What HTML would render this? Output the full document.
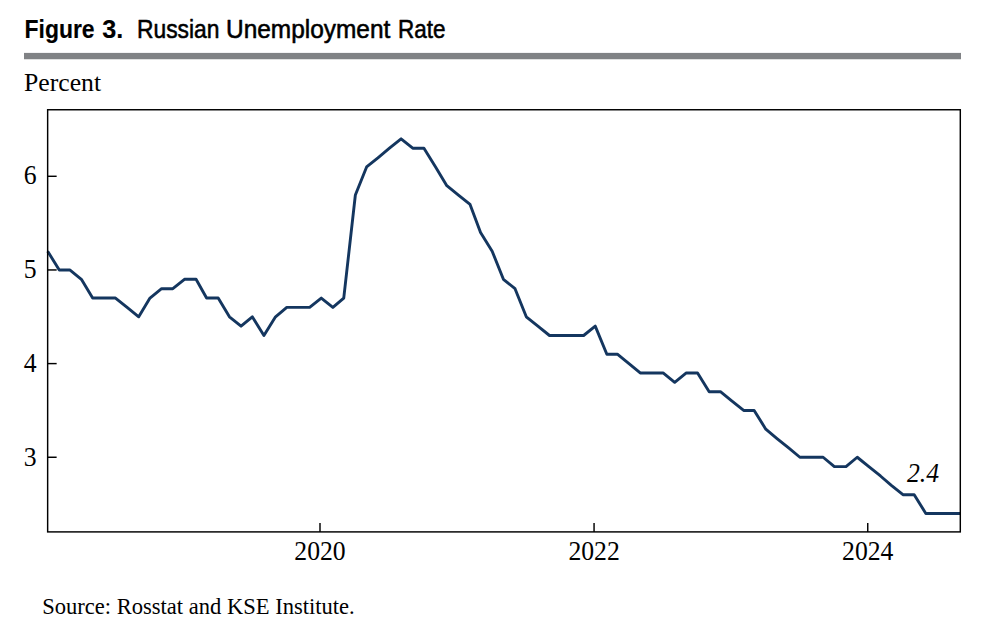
<!DOCTYPE html>
<html><head><meta charset="utf-8"><title>Figure 3. Russian Unemployment Rate</title>
<style>
html,body{margin:0;padding:0;background:#fff;}
body{width:990px;height:624px;overflow:hidden;position:relative;}
svg{position:absolute;left:0;top:0;display:block;}
text{fill:#000;}
.s{font-family:"Liberation Serif","Times New Roman",serif;font-size:25.7px;}
.t{font-family:"Liberation Sans","DejaVu Sans Condensed",sans-serif;font-size:25px;}
.ax line,.ax rect{stroke:#000;stroke-width:1.45;fill:none;}
</style></head><body>
<svg width="990" height="624" viewBox="0 0 990 624">
<rect x="0" y="0" width="990" height="624" fill="#fff"/>
<text class="t" y="37.8" stroke="#000" stroke-width="0.55" stroke-linejoin="round"><tspan x="24.6" font-weight="bold" stroke-width="0.15" textLength="70.0" lengthAdjust="spacingAndGlyphs">Figure</tspan> <tspan x="102.2" font-weight="bold" stroke-width="0.15" textLength="21" lengthAdjust="spacingAndGlyphs">3.</tspan> <tspan x="137" textLength="82.5" lengthAdjust="spacingAndGlyphs">Russian</tspan> <tspan x="226.0" textLength="164.3" lengthAdjust="spacingAndGlyphs">Unemployment</tspan> <tspan x="398" textLength="47.5" lengthAdjust="spacingAndGlyphs">Rate</tspan></text>
<rect x="24" y="52.9" width="937" height="6.35" fill="#808285"/>
<text class="s" x="24" y="91.1">Percent</text>
<polyline points="47.65,251.22 59.27,269.95 69.76,269.95 81.38,279.31 92.63,298.04 104.25,298.04 115.49,298.04 127.11,307.41 138.73,316.77 149.97,298.04 161.59,288.68 172.83,288.68 184.45,279.31 196.07,279.31 206.57,298.04 218.19,298.04 229.43,316.77 241.05,326.14 252.29,316.77 263.91,335.50 275.53,316.77 286.78,307.41 298.39,307.41 309.64,307.41 321.26,298.04 332.88,307.41 343.75,298.04 355.36,195.03 366.61,166.94 378.23,157.57 389.47,148.20 401.09,138.84 412.71,148.20 423.95,148.20 435.57,166.94 446.82,185.66 458.44,195.03 470.06,204.39 480.55,232.49 492.17,251.22 503.41,279.31 515.03,288.68 526.28,316.77 537.89,326.14 549.51,335.50 560.76,335.50 572.38,335.50 583.62,335.50 595.24,326.14 606.86,354.24 617.35,354.24 628.97,363.60 640.22,372.97 651.84,372.97 663.08,372.97 674.70,382.33 686.32,372.97 697.56,372.97 709.18,391.69 720.42,391.69 732.04,401.06 743.66,410.43 754.16,410.43 765.78,429.16 777.02,438.52 788.64,447.88 799.88,457.25 811.50,457.25 823.12,457.25 834.37,466.62 845.98,466.62 857.23,457.25 868.85,466.62 880.47,475.98 891.34,485.34 902.95,494.71 914.20,494.71 925.82,513.44 937.06,513.44 948.68,513.44 960.30,513.44" fill="none" stroke="#14365f" stroke-width="2.9" stroke-linejoin="round" stroke-linecap="butt"/>
<g class="ax">
<rect x="47.65" y="109.75" width="912.65" height="422.15"/>
<line x1="47.65" x2="56.65" y1="457.25" y2="457.25"/>
<text class="s" transform="translate(36.5,465.85) scale(1,1.04)" text-anchor="end">3</text>
<line x1="47.65" x2="56.65" y1="363.60" y2="363.60"/>
<text class="s" transform="translate(36.5,371.60) scale(1,1.04)" text-anchor="end">4</text>
<line x1="47.65" x2="56.65" y1="269.95" y2="269.95"/>
<text class="s" transform="translate(36.5,277.95) scale(1,1.04)" text-anchor="end">5</text>
<line x1="47.65" x2="56.65" y1="176.30" y2="176.30"/>
<text class="s" transform="translate(36.5,183.90) scale(1,1.04)" text-anchor="end">6</text>
<line x1="320.00" x2="320.00" y1="531.9" y2="522.9"/>
<text class="s" transform="translate(320.00,560) scale(1,1.04)" text-anchor="middle">2020</text>
<line x1="594.06" x2="594.06" y1="531.9" y2="522.9"/>
<text class="s" transform="translate(594.06,560) scale(1,1.04)" text-anchor="middle">2022</text>
<line x1="867.75" x2="867.75" y1="531.9" y2="522.9"/>
<text class="s" transform="translate(867.75,560) scale(1,1.04)" text-anchor="middle">2024</text>
</g>
<text class="s" transform="translate(907,481.6) scale(1,1.04)" font-style="italic">2.4</text>
<text class="s" x="42.2" y="614.0" style="font-size:22.55px">Source: Rosstat and KSE Institute.</text>
</svg>
</body></html>
